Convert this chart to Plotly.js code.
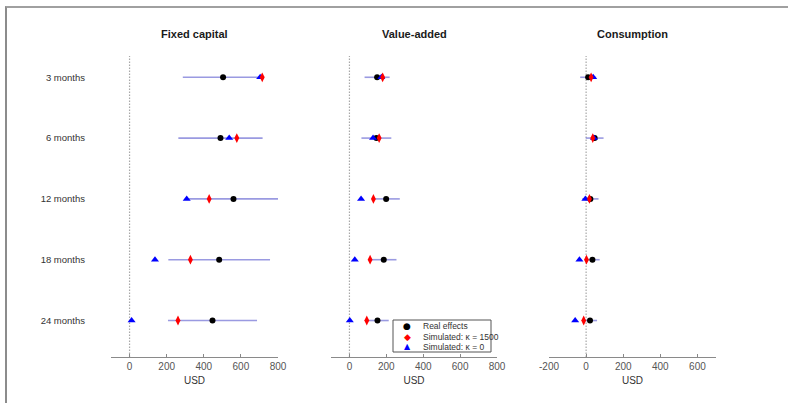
<!DOCTYPE html>
<html>
<head>
<meta charset="utf-8">
<script src="https://cdn.plot.ly/plotly-3.0.1.min.js"></script>
<style>
  html, body { margin: 0; padding: 0; background: #fff; }
  #wrap { position: relative; width: 788px; height: 403px; overflow: hidden; }
  #chart { position: absolute; left: 0; top: 0; width: 788px; height: 403px; }
  #frame { position: absolute; left: 5px; top: 6px; right: -4px; bottom: -4px;
           border-top: 2px solid #a0a0a0; border-left: 2px solid #8c8c8c; pointer-events: none; }
</style>
</head>
<body>
<div id="wrap">
  <div id="chart"></div>
  <div id="frame"></div>
</div>
<script>
// Horizons (rows, top to bottom)
const horizons = ['3 months', '6 months', '12 months', '18 months', '24 months'];
const rowPos = [1, 2, 3, 4, 5];

// Fixed capital (USD)
const capReal   = [504, 490, 560, 483, 447];
const capCI     = [217, 227, 240, 274, 240];
const capK1500  = [715, 578, 429, 328, 261];
const capK0     = [704, 537, 308, 137, 11];

// Value-added (USD)
const vaReal    = [150, 146, 199, 186, 152];
const vaCI      = [68, 81, 74, 69, 61];
const vaK1500   = [180, 161, 130, 112, 94];
const vaK0      = [173, 128, 63, 29, 2];

// Consumption (USD)
const conReal   = [11, 46, 23, 34, 21];
const conCI     = [43, 48, 44, 39, 38];
const conK1500  = [27, 36, 18, 2, -13];
const conK0     = [38, 42, -4, -36, -59];

// Axis ticks
const ticksAB = [0, 200, 400, 600, 800];
const ticksC = [-200, 0, 200, 400, 600];
const tickTextC = ['-200', '0', '200', '400', '600'];

const panelTitles = ['Fixed capital', 'Value-added', 'Consumption'];
const legendNames = ['Real effects', 'Simulated: \u03ba = 1500', 'Simulated: \u03ba = 0'];

const panels = [
  { ax: 'x',  real: capReal, ci: capCI, k1500: capK1500, k0: capK0 },
  { ax: 'x2', real: vaReal,  ci: vaCI,  k1500: vaK1500,  k0: vaK0 },
  { ax: 'x3', real: conReal, ci: conCI, k1500: conK1500, k0: conK0 }
];

const W = 788, H = 403;
const plotTop = 56, plotBottom = 357;
const px = v => v / W;
const py = v => (plotBottom - v) / (plotBottom - plotTop);

const ciColor = 'rgba(120,120,215,0.75)';
const traces = [];
panels.forEach(p => {
  traces.push({
    type: 'scatter', mode: 'markers', xaxis: p.ax, yaxis: 'y',
    x: p.real, y: rowPos, showlegend: false, hoverinfo: 'x',
    marker: { symbol: 'circle', size: 6, color: '#000' },
    error_x: { type: 'data', array: p.ci, symmetric: true, color: ciColor, thickness: 1.6, width: 0 }
  });
  traces.push({
    type: 'scatter', mode: 'markers', xaxis: p.ax, yaxis: 'y',
    x: p.k0, y: rowPos, showlegend: false, hoverinfo: 'x',
    marker: { symbol: 'triangle-up', size: 7, color: '#0000ff' }
  });
  traces.push({
    type: 'scatter', mode: 'markers', xaxis: p.ax, yaxis: 'y',
    x: p.k1500, y: rowPos, showlegend: false, hoverinfo: 'x',
    marker: { symbol: 'diamond-tall', size: 7, color: '#ff0000' }
  });
});

const tickFont = { family: 'Liberation Sans, Arial, sans-serif', size: 10, color: '#555' };
function xAxis(domain, range, tickvals, ticktext) {
  return {
    domain: domain, range: range, anchor: 'y',
    tickvals: tickvals, ticktext: ticktext, ticks: 'inside', ticklen: 3, tickcolor: '#888',
    showline: true, linecolor: '#8a8a8a', linewidth: 1,
    showgrid: false, zeroline: false, tickfont: tickFont,
    title: { text: 'USD', font: { family: tickFont.family, size: 10, color: '#333' }, standoff: 5 }
  };
}

const shapes = [];
['x', 'x2', 'x3'].forEach(ax => {
  shapes.push({
    type: 'line', xref: ax, yref: 'paper', x0: 0, x1: 0, y0: 0, y1: 1,
    line: { color: '#a8a8a8', width: 1.2, dash: '1.5px,1.5px' }, layer: 'below'
  });
});

// legend box
const lgL = 393, lgR = 491, lgT = 320, lgB = 352;
shapes.push({
  type: 'rect', xref: 'paper', yref: 'paper',
  x0: px(lgL), x1: px(lgR), y0: py(lgB), y1: py(lgT),
  line: { color: '#555', width: 1 }, fillcolor: '#fff'
});

const annotations = [];
const domains = [[111 / W, 278 / W], [331 / W, 497 / W], [549 / W, 716 / W]];
panelTitles.forEach((t, i) => {
  annotations.push({
    text: '<b>' + t + '</b>', xref: 'paper', yref: 'paper',
    x: (domains[i][0] + domains[i][1]) / 2, y: py(34), xanchor: 'center', yanchor: 'middle',
    showarrow: false, font: { family: 'Liberation Sans, Arial, sans-serif', size: 11, color: '#1a1a1a' }
  });
});

const glyphs = [
  { ch: '\u25CF', color: '#000', size: 9 },
  { ch: '\u25C6', color: '#ff0000', size: 9 },
  { ch: '\u25B2', color: '#0000ff', size: 8 }
];
const lgRows = [326, 336.5, 346.5];
legendNames.forEach((name, i) => {
  annotations.push({
    text: glyphs[i].ch, xref: 'paper', yref: 'paper', x: px(407), y: py(lgRows[i]),
    xanchor: 'center', yanchor: 'middle', showarrow: false,
    font: { family: 'DejaVu Sans', size: glyphs[i].size, color: glyphs[i].color }
  });
  annotations.push({
    text: name, xref: 'paper', yref: 'paper', x: px(421), y: py(lgRows[i]),
    xanchor: 'left', yanchor: 'middle', showarrow: false,
    font: { family: 'Liberation Sans, Arial, sans-serif', size: 8.5, color: '#333' }
  });
});

const layout = {
  width: W, height: H,
  margin: { l: 0, r: 0, t: plotTop, b: H - plotBottom, pad: 0 },
  paper_bgcolor: '#fff', plot_bgcolor: 'rgba(0,0,0,0)',
  showlegend: false,
  font: { family: 'Liberation Sans, Arial, sans-serif' },
  xaxis:  xAxis(domains[0], [-100, 800], ticksAB),
  xaxis2: xAxis(domains[1], [-100, 800], ticksAB),
  xaxis3: xAxis(domains[2], [-200, 700], ticksC, tickTextC),
  yaxis: {
    domain: [0, 1], anchor: 'x', range: [5.6, 0.65],
    tickvals: rowPos, ticktext: horizons, ticks: '', ticklabelstandoff: 25,
    showline: false, showgrid: false, zeroline: false,
    tickfont: { family: 'Liberation Sans, Arial, sans-serif', size: 9.5, color: '#333' }
  },
  shapes: shapes,
  annotations: annotations
};

Plotly.newPlot('chart', traces, layout, { displayModeBar: false, staticPlot: true });
</script>
</body>
</html>
